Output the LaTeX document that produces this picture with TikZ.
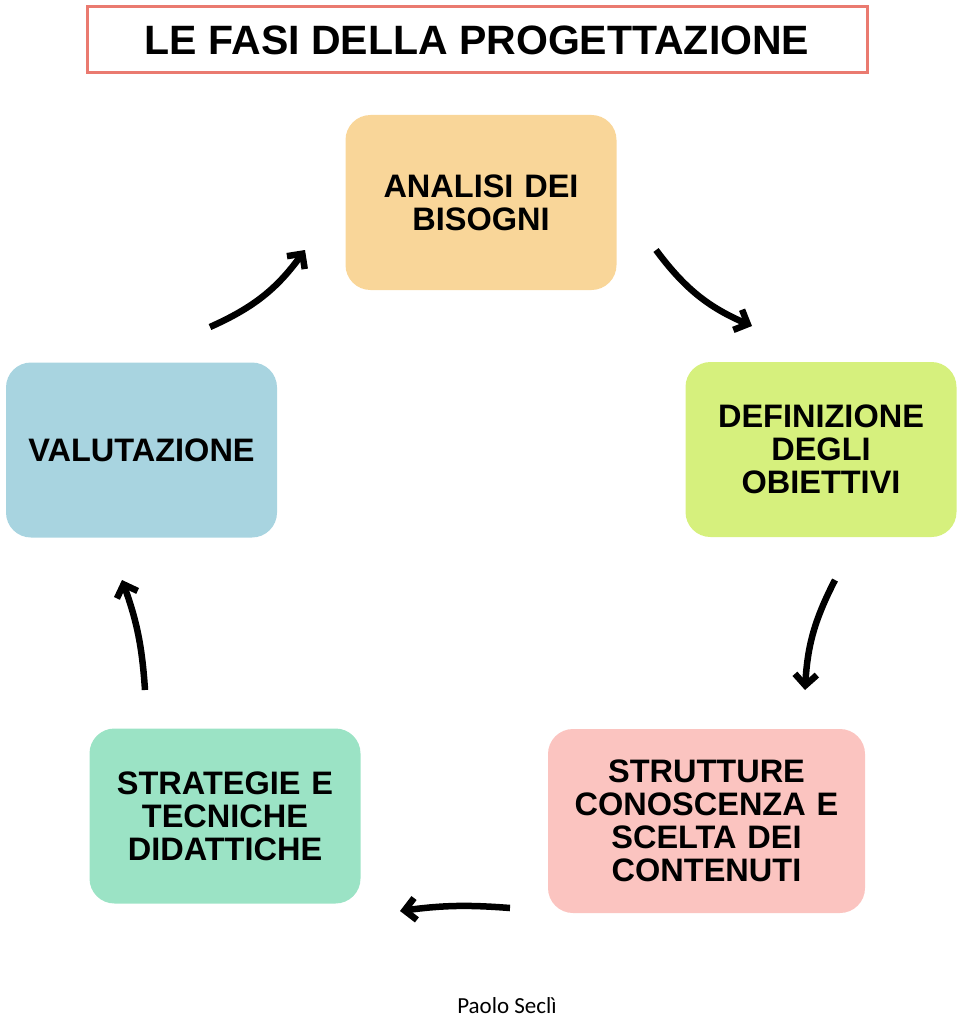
\documentclass[tikz,border=0pt]{standalone}
\usepackage{fontspec}
\setmainfont{Liberation Sans}
\newfontfamily\footfont{Carlito}
\usetikzlibrary{arrows.meta}
\definecolor{titleColor}{RGB}{234,122,112}
\definecolor{analisiColor}{RGB}{249,214,153}
\definecolor{definizioneColor}{RGB}{214,240,125}
\definecolor{struttureColor}{RGB}{251,196,192}
\definecolor{strategieColor}{RGB}{155,227,197}
\definecolor{valutazioneColor}{RGB}{168,212,224}

\begin{document}
\begin{tikzpicture}[x=1pt,y=-1pt,
  fase/.style={rounded corners=25pt, minimum width=271pt, minimum height=175pt,
    text width=262pt, align=center, inner sep=0pt,
    font=\fontsize{32.5}{33}\selectfont\bfseries},
  freccia/.style={line width=6.5pt, -{Straight Barb[length=11pt,width=22pt]}}]
\useasboundingbox (0,0) rectangle (960,1019);

\node [draw=titleColor, line width=3pt, minimum width=780pt, minimum height=66pt,
  font=\fontsize{41}{41}\selectfont\bfseries] (titolo) at (477,40) {LE FASI DELLA PROGETTAZIONE};

\node [fase, fill=analisiColor] (analisi) at (481,202.5) {ANALISI DEI\\BISOGNI};
\node [fase, fill=definizioneColor] (definizione) at (821,449.5) {DEFINIZIONE\\DEGLI\\OBIETTIVI};
\node [fase, fill=struttureColor, minimum width=317pt, minimum height=184pt, text width=305pt]
  (strutture) at (706.5,821) {STRUTTURE\\CONOSCENZA E\\SCELTA DEI\\CONTENUTI};
\node [fase, fill=strategieColor] (strategie) at (225,816) {STRATEGIE E\\TECNICHE\\DIDATTICHE};
\node [fase, fill=valutazioneColor] (valutazione) at (141.5,450) {VALUTAZIONE};

\coordinate (v1) at (210,327);
\coordinate (a1) at (305,250);
\coordinate (a2) at (656,250);
\coordinate (d1) at (752,326);
\coordinate (d2) at (835,580);
\coordinate (s1) at (805,690);
\coordinate (s2) at (510,908);
\coordinate (t1) at (400,911);
\coordinate (t2) at (145,690);
\coordinate (v2) at (122,580);

\draw [freccia] (v1) to[bend right=15] (a1);
\draw [freccia] (a2) to[bend right=15] (d1);
\draw [freccia] (d2) to[bend right=12] (s1);
\draw [freccia] (s2) to[bend right=6] (t1);
\draw [freccia] (t2) to[bend right=8] (v2);

\node [font=\footfont\fontsize{23}{23}\selectfont, inner sep=0pt, anchor=base] (autore) at (507,1013) {Paolo Seclì};
\end{tikzpicture}
\end{document}
